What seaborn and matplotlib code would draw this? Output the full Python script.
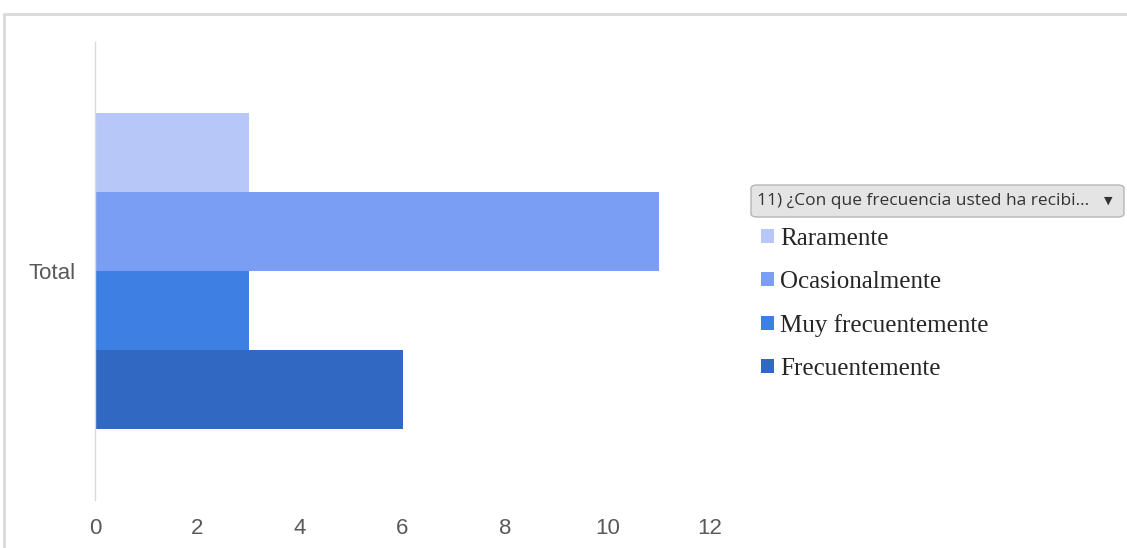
import matplotlib
matplotlib.use("Agg")
import matplotlib.pyplot as plt
import seaborn as sns
import pandas as pd
from matplotlib.patches import FancyBboxPatch
from matplotlib.lines import Line2D

# ---- data ----
group = ["Total"]
categories = ["Raramente", "Ocasionalmente", "Muy frecuentemente", "Frecuentemente"]
values = [3, 11, 3, 6]
colors = ["#b7c8f8", "#799ef3", "#3d7fe3", "#3168c2"]
xticks = [0, 2, 4, 6, 8, 10, 12]
legend_title = "11) ¿Con que frecuencia usted ha recibi..."

df = pd.DataFrame({"grupo": group * len(categories),
                   "categoria": categories,
                   "valor": values})

sns.set_style("white")
plt.rcParams["font.family"] = ["Liberation Sans", "DejaVu Sans"]

W, H = 1127, 548
fig = plt.figure(figsize=(W / 100, H / 100), dpi=100)
ax = fig.add_axes([95 / W, 1 - 500 / H, (710 - 95) / W, (500 - 42) / H])

sns.barplot(data=df, x="valor", y="grupo", hue="categoria", hue_order=categories,
            palette=colors, orient="h", width=0.69, gap=0, saturation=1,
            linewidth=0, ax=ax, legend=True)

ax.set_xlim(0, 12)
ax.set_ylim(0.5, -0.5)
ax.set_xticks(xticks)
ax.set_xticklabels([str(t) for t in xticks])
ax.set_xlabel("")
ax.set_ylabel("")
for s in ["top", "right", "bottom"]:
    ax.spines[s].set_visible(False)
ax.spines["left"].set_color("#d9d9d9")
ax.spines["left"].set_linewidth(1.0)
ax.tick_params(axis="x", length=0, pad=13, labelsize=16, labelcolor="#595959")
ax.tick_params(axis="y", length=0, pad=14, labelsize=16, labelcolor="#595959")

# legend
handles, labels = ax.get_legend_handles_labels()
ax.legend(handles, labels, loc="upper left", bbox_to_anchor=(761 / W, 1 - 228 / H),
          bbox_transform=fig.transFigure, frameon=False,
          prop={"family": "Liberation Serif", "size": 18},
          handlelength=0.5, handleheight=0.5, handletextpad=0.25,
          labelspacing=0.84, borderpad=0, borderaxespad=0)

# legend header box
box = FancyBboxPatch((751 / W, 1 - 217 / H), 373 / W, 32 / H,
                     boxstyle="round,pad=0,rounding_size=0.006",
                     transform=fig.transFigure, facecolor="#e4e4e4",
                     edgecolor="#b5b5b5", linewidth=1.0)
fig.patches.append(box)
fig.text(757 / W, 1 - 201 / H, legend_title, ha="left", va="center",
         fontsize=12.5, color="#333333", family=["Open Sans", "DejaVu Sans"])
fig.text(1108 / W, 1 - 201 / H, "▼", ha="center", va="center",
         fontsize=8, color="#333333", family="DejaVu Sans")

# outer frame
fig.lines.append(Line2D([4 / W, 1], [1 - 14 / H, 1 - 14 / H], transform=fig.transFigure,
                        color="#d9d9d9", linewidth=2))
fig.lines.append(Line2D([4 / W, 4 / W], [0, 1 - 14 / H], transform=fig.transFigure,
                        color="#d9d9d9", linewidth=2))

fig.savefig("out.png", dpi=100)
